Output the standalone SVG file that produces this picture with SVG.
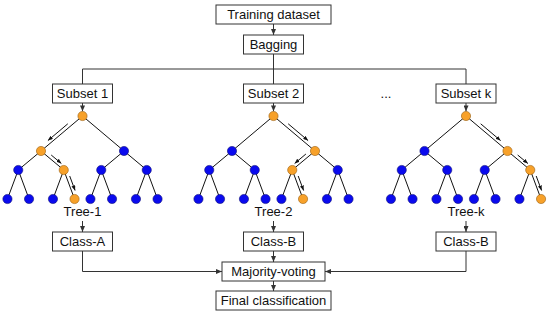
<svg xmlns="http://www.w3.org/2000/svg" width="550" height="316" viewBox="0 0 550 316">
<style>
.box{fill:#fff;stroke:#333;stroke-width:1}
.lbl{font-family:"Liberation Sans",Arial,sans-serif;font-size:13px;fill:#111;text-anchor:middle}
.con{fill:none;stroke:#333;stroke-width:1}
.edge{stroke:#111;stroke-width:1}
.b{fill:#0a0aee;stroke:#10107a;stroke-width:0.6}
.o{fill:#f7a12a;stroke:#9a6010;stroke-width:0.6}
.ta{fill:none;stroke:#111;stroke-width:1;marker-end:url(#sa)}
</style>
<defs>
<marker id="ah" markerWidth="6" markerHeight="5" refX="6" refY="2.5" orient="auto" markerUnits="userSpaceOnUse"><path d="M0,0 L6,2.5 L0,5 z" fill="#333"/></marker>
<marker id="sa" markerWidth="5" markerHeight="4" refX="5" refY="2" orient="auto" markerUnits="userSpaceOnUse"><path d="M0,0 L5,2 L0,4 z" fill="#111"/></marker>
<g id="treeshape">
<g class="edge">
<line x1="0" y1="116" x2="-41.5" y2="151"/><line x1="0" y1="116" x2="41.5" y2="151"/>
<line x1="-41.5" y1="151" x2="-64.25" y2="170"/><line x1="-41.5" y1="151" x2="-18.75" y2="170"/>
<line x1="41.5" y1="151" x2="18.75" y2="170"/><line x1="41.5" y1="151" x2="64.25" y2="170"/>
<line x1="-64.25" y1="170" x2="-75.05" y2="199"/><line x1="-64.25" y1="170" x2="-53.45" y2="199"/>
<line x1="-18.75" y1="170" x2="-29.55" y2="199"/><line x1="-18.75" y1="170" x2="-7.95" y2="199"/>
<line x1="18.75" y1="170" x2="7.95" y2="199"/><line x1="18.75" y1="170" x2="29.55" y2="199"/>
<line x1="64.25" y1="170" x2="53.45" y2="199"/><line x1="64.25" y1="170" x2="75.05" y2="199"/>
</g>
</g>
</defs>

<g id="connectors">
<line class="con" x1="273.5" y1="24" x2="273.5" y2="35" marker-end="url(#ah)"/>
<line class="con" x1="273.5" y1="54" x2="273.5" y2="84"/>
<polyline class="con" points="82.5,84 82.5,69 466,69 466,84"/>
<line class="con" x1="82.5" y1="103" x2="82.5" y2="111.4" marker-end="url(#ah)"/>
<line class="con" x1="273.5" y1="103" x2="273.5" y2="111.4" marker-end="url(#ah)"/>
<line class="con" x1="466" y1="103" x2="466" y2="111.4" marker-end="url(#ah)"/>
<line class="con" x1="82.5" y1="221" x2="82.5" y2="232" marker-end="url(#ah)"/>
<line class="con" x1="273.5" y1="221" x2="273.5" y2="232" marker-end="url(#ah)"/>
<line class="con" x1="466" y1="221" x2="466" y2="232" marker-end="url(#ah)"/>
<line class="con" x1="273.5" y1="251" x2="273.5" y2="262" marker-end="url(#ah)"/>
<polyline class="con" points="82.5,251 82.5,271.5 222,271.5" marker-end="url(#ah)"/>
<polyline class="con" points="466,251 466,271.5 325,271.5" marker-end="url(#ah)"/>
<line class="con" x1="273.5" y1="281" x2="273.5" y2="291" marker-end="url(#ah)"/>
</g>

<g id="training-dataset"><rect class="box" x="216" y="5" width="115" height="19"/><text class="lbl" x="273.5" y="19.2">Training dataset</text></g>
<g id="bagging"><rect class="box" x="243.5" y="35" width="60" height="19"/><text class="lbl" x="273.5" y="49.2">Bagging</text></g>
<g id="subset-1"><rect class="box" x="52.5" y="84" width="60" height="19"/><text class="lbl" x="82.5" y="98.2">Subset 1</text></g>
<g id="subset-2"><rect class="box" x="243.5" y="84" width="60" height="19"/><text class="lbl" x="273.5" y="98.2">Subset 2</text></g>
<g id="ellipsis"><text class="lbl" x="386" y="98.2">...</text></g>
<g id="subset-k"><rect class="box" x="436" y="84" width="60" height="19"/><text class="lbl" x="466" y="98.2">Subset k</text></g>

<g id="tree-1" transform="translate(82.5,0)">
<use href="#treeshape"/>
<circle class="o" cx="0" cy="116" r="4.6"/>
<circle class="o" cx="-41.5" cy="151" r="4.6"/><circle class="b" cx="41.5" cy="151" r="4.6"/>
<circle class="b" cx="-64.25" cy="170" r="4.6"/><circle class="o" cx="-18.75" cy="170" r="4.6"/><circle class="b" cx="18.75" cy="170" r="4.6"/><circle class="b" cx="64.25" cy="170" r="4.6"/>
<circle class="b" cx="-75.05" cy="199" r="4.6"/><circle class="b" cx="-53.45" cy="199" r="4.6"/><circle class="b" cx="-29.55" cy="199" r="4.6"/><circle class="o" cx="-7.95" cy="199" r="4.6"/>
<circle class="b" cx="7.95" cy="199" r="4.6"/><circle class="b" cx="29.55" cy="199" r="4.6"/><circle class="b" cx="53.45" cy="199" r="4.6"/><circle class="b" cx="75.05" cy="199" r="4.6"/>
<line class="ta" x1="-14.7" y1="123.8" x2="-34.6" y2="140.6"/>
<line class="ta" x1="-31.3" y1="155" x2="-21.1" y2="163.5"/>
<line class="ta" x1="-12.8" y1="176" x2="-7.4" y2="190.5"/>
<text class="lbl" x="0" y="216">Tree-1</text>
</g>

<g id="tree-2" transform="translate(273.5,0)">
<use href="#treeshape"/>
<circle class="o" cx="0" cy="116" r="4.6"/>
<circle class="b" cx="-41.5" cy="151" r="4.6"/><circle class="o" cx="41.5" cy="151" r="4.6"/>
<circle class="b" cx="-64.25" cy="170" r="4.6"/><circle class="b" cx="-18.75" cy="170" r="4.6"/><circle class="o" cx="18.75" cy="170" r="4.6"/><circle class="b" cx="64.25" cy="170" r="4.6"/>
<circle class="b" cx="-75.05" cy="199" r="4.6"/><circle class="b" cx="-53.45" cy="199" r="4.6"/><circle class="b" cx="-29.55" cy="199" r="4.6"/><circle class="b" cx="-7.95" cy="199" r="4.6"/>
<circle class="b" cx="7.95" cy="199" r="4.6"/><circle class="o" cx="29.55" cy="199" r="4.6"/><circle class="b" cx="53.45" cy="199" r="4.6"/><circle class="b" cx="75.05" cy="199" r="4.6"/>
<line class="ta" x1="14.7" y1="123.8" x2="34.6" y2="140.6"/>
<line class="ta" x1="32.4" y1="154" x2="21.1" y2="163.5"/>
<line class="ta" x1="24.7" y1="176" x2="30.1" y2="190.5"/>
<text class="lbl" x="0" y="216">Tree-2</text>
</g>

<g id="tree-k" transform="translate(466,0)">
<use href="#treeshape"/>
<circle class="o" cx="0" cy="116" r="4.6"/>
<circle class="b" cx="-41.5" cy="151" r="4.6"/><circle class="o" cx="41.5" cy="151" r="4.6"/>
<circle class="b" cx="-64.25" cy="170" r="4.6"/><circle class="b" cx="-18.75" cy="170" r="4.6"/><circle class="b" cx="18.75" cy="170" r="4.6"/><circle class="o" cx="64.25" cy="170" r="4.6"/>
<circle class="b" cx="-75.05" cy="199" r="4.6"/><circle class="b" cx="-53.45" cy="199" r="4.6"/><circle class="b" cx="-29.55" cy="199" r="4.6"/><circle class="b" cx="-7.95" cy="199" r="4.6"/>
<circle class="b" cx="7.95" cy="199" r="4.6"/><circle class="b" cx="29.55" cy="199" r="4.6"/><circle class="b" cx="53.45" cy="199" r="4.6"/><circle class="o" cx="75.05" cy="199" r="4.6"/>
<line class="ta" x1="14.7" y1="123.8" x2="34.6" y2="140.6"/>
<line class="ta" x1="51.7" y1="155" x2="61.9" y2="163.5"/>
<line class="ta" x1="70.2" y1="176" x2="75.6" y2="190.5"/>
<text class="lbl" x="0" y="216">Tree-k</text>
</g>

<g id="class-a"><rect class="box" x="52.5" y="232" width="60" height="19"/><text class="lbl" x="82.5" y="246.2">Class-A</text></g>
<g id="class-b-2"><rect class="box" x="243.5" y="232" width="60" height="19"/><text class="lbl" x="273.5" y="246.2">Class-B</text></g>
<g id="class-b-k"><rect class="box" x="436" y="232" width="60" height="19"/><text class="lbl" x="466" y="246.2">Class-B</text></g>
<g id="majority-voting"><rect class="box" x="222" y="262" width="103" height="19"/><text class="lbl" x="273.5" y="276.2">Majority-voting</text></g>
<g id="final-classification"><rect class="box" x="216" y="291" width="115" height="19"/><text class="lbl" x="273.5" y="305.2">Final classification</text></g>
</svg>
